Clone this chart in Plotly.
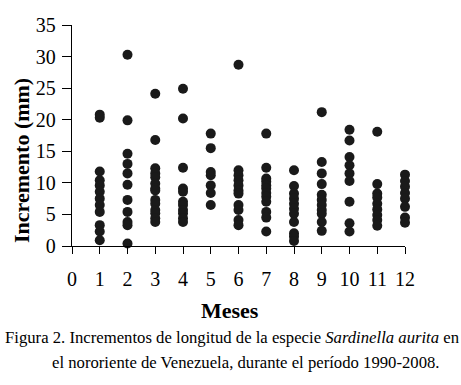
import plotly.graph_objects as go

months = [1, 2, 3, 4, 5, 6, 7, 8, 9, 10, 11, 12]
m1 = [20.8, 20.3, 11.8, 10.4, 9.6, 8.6, 7.5, 6.5, 5.4, 3.3, 2.3, 0.9]
m2 = [30.3, 19.9, 14.6, 13.0, 11.5, 9.7, 7.3, 5.4, 3.8, 3.3, 0.4]
m3 = [24.1, 16.8, 12.3, 11.5, 10.9, 9.9, 9.1, 8.8, 7.3, 6.7, 5.7, 5.2, 4.4, 3.8]
m4 = [24.9, 20.2, 12.4, 9.1, 8.6, 7.0, 6.5, 5.7, 5.2, 4.4, 3.8]
m5 = [17.8, 15.5, 11.7, 11.2, 9.6, 8.4, 6.5]
m6 = [28.7, 12.0, 11.2, 10.4, 9.6, 8.8, 8.3, 6.5, 5.7, 4.1, 3.3]
m7 = [17.8, 12.4, 10.7, 10.2, 9.6, 9.1, 8.4, 7.8, 7.0, 5.4, 4.5, 2.3]
m8 = [12.0, 9.5, 8.3, 7.5, 6.7, 5.9, 5.1, 3.8, 2.0, 1.5, 0.8]
m9 = [21.2, 13.3, 11.5, 9.8, 8.1, 7.3, 6.5, 5.7, 5.1, 3.8, 2.4]
m10 = [18.4, 16.7, 14.1, 12.8, 11.5, 10.3, 7.0, 3.6, 2.3]
m11 = [18.1, 9.8, 8.3, 7.7, 6.7, 5.8, 4.9, 4.1, 3.2]
m12 = [11.3, 10.3, 9.4, 8.4, 7.5, 6.2, 4.5, 3.7]
increments = [m1, m2, m3, m4, m5, m6, m7, m8, m9, m10, m11, m12]

xtick_vals = list(range(0, 13))
ytick_vals = [0, 5, 10, 15, 20, 25, 30, 35]

xs, ys = [], []
for m, vals in zip(months, increments):
    for v in vals:
        xs.append(m)
        ys.append(v)

SERIF = "Liberation Serif"

fig = go.Figure()
fig.add_trace(go.Scatter(
    x=xs, y=ys, mode="markers",
    marker=dict(color="#1a1a1a", size=10, line=dict(width=0)),
    cliponaxis=False, showlegend=False,
))

axis_common = dict(
    showgrid=False, zeroline=False, showline=True, linecolor="black", linewidth=1.3,
    ticks="outside", tickcolor="black", tickwidth=1.2,
    tickfont=dict(family=SERIF, size=20, color="black"),
)
fig.update_xaxes(range=[0, 12], tickvals=xtick_vals, ticklen=7,
                 ticklabelstandoff=8, **axis_common)
fig.update_yaxes(range=[0, 35], tickvals=ytick_vals, ticklen=9,
                 ticklabelstandoff=2, **axis_common)

fig.add_annotation(text="<b>Incremento (mm)</b>", xref="paper", yref="paper",
                   x=-0.150, y=0.385, textangle=-90, showarrow=False,
                   font=dict(family=SERIF, size=22, color="black"),
                   xanchor="center", yanchor="middle")
fig.add_annotation(text="<b>Meses</b>", xref="paper", yref="paper",
                   x=0.474, y=-0.29, showarrow=False,
                   font=dict(family=SERIF, size=22, color="black"),
                   xanchor="center", yanchor="middle")
fig.add_annotation(text="Figura 2. Incrementos de longitud de la especie <i>Sardinella aurita</i> en",
                   xref="paper", yref="paper", x=-0.207, y=-0.412, showarrow=False,
                   font=dict(family=SERIF, size=16.7, color="black"),
                   xanchor="left", yanchor="middle")
fig.add_annotation(text="el nororiente de Venezuela, durante el período 1990-2008.",
                   xref="paper", yref="paper", x=-0.066, y=-0.529, showarrow=False,
                   font=dict(family=SERIF, size=16.7, color="black"),
                   xanchor="left", yanchor="middle")

fig.update_layout(
    width=461, height=385,
    margin=dict(l=72, r=56, t=25, b=139, pad=0),
    paper_bgcolor="white", plot_bgcolor="white",
    font=dict(family=SERIF, color="black"),
)

fig.write_html("out.html", config={"displayModeBar": False},
               post_script="document.body.style.margin='0';")
